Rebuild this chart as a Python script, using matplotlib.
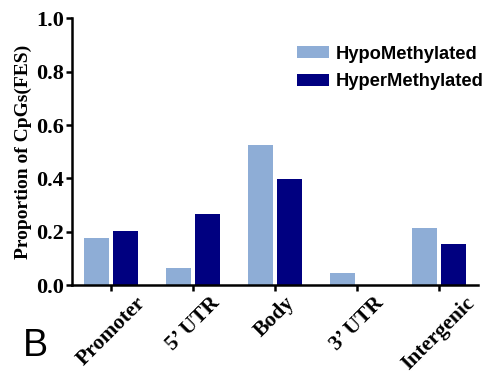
import matplotlib.pyplot as plt
import matplotlib.transforms as mtransforms
import numpy as np

categories = ["Promoter", "5\u2019 UTR", "Body", "3\u2019 UTR", "Intergenic"]
hypo = [0.175, 0.064, 0.527, 0.044, 0.214]
hyper = [0.204, 0.265, 0.397, 0.0, 0.154]
yticks = [0.0, 0.2, 0.4, 0.6, 0.8, 1.0]

serif = ["Liberation Serif", "DejaVu Serif"]
sans = ["Liberation Sans", "DejaVu Sans"]

fig = plt.figure(figsize=(4.89, 3.76), dpi=100)
ax = fig.add_axes([0.147, 0.242, 0.831, 0.709])

x = np.arange(len(categories))
w = 0.305
ax.bar(x - 0.18, hypo, width=w, color="#8EADD6", label="HypoMethylated")
ax.bar(x + 0.18, hyper, width=w, color="#000080", label="HyperMethylated")

ax.set_xlim(-0.48, 4.48)
ax.set_ylim(0, 1.0)
ax.set_yticks(yticks)
ax.set_yticklabels([f"{v:.1f}" for v in yticks], family=serif,
                   fontweight="bold", fontsize=16)
ax.set_xticks(x)
ax.set_xticklabels(categories, family=serif, fontweight="bold",
                   fontsize=15.5, rotation=45, ha="center")
# labels sit a little left of their ticks
shift = mtransforms.ScaledTranslation(-4 / 100, 0, fig.dpi_scale_trans)
for lbl in ax.get_xticklabels():
    lbl.set_transform(lbl.get_transform() + shift)
ax.set_ylabel("Proportion of CpGs(FES)", family=serif, fontweight="bold",
              fontsize=14, labelpad=3)

for s in ["top", "right"]:
    ax.spines[s].set_visible(False)
for s in ["left", "bottom"]:
    ax.spines[s].set_linewidth(1.8)
ax.tick_params(axis="both", width=1.8, length=4.5, pad=1, colors="black")

ax.legend(loc="upper right", bbox_to_anchor=(1.055, 0.96), frameon=False,
          prop={"family": sans, "weight": "bold", "size": 13.2},
          handlelength=1.75, handleheight=0.65, handletextpad=0.4,
          labelspacing=0.58)

fig.text(0.046, 0.052, "B", family=sans, fontsize=27)

fig.savefig("out.png", dpi=100)
